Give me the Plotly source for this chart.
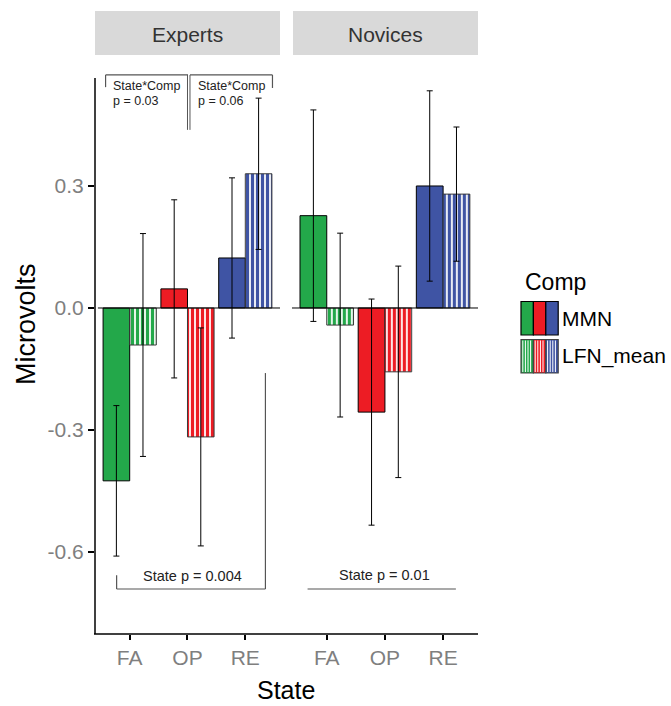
import plotly.graph_objects as go

# ---------------- data ----------------
states = ["FA", "OP", "RE"]
groups = ["Experts", "Novices"]
comps = ["MMN", "LFN_mean"]

experts_mmn = [-0.425, 0.047, 0.123]
experts_mmn_err = [0.185, 0.219, 0.197]
experts_lfn = [-0.091, -0.317, 0.330]
experts_lfn_err = [0.274, 0.268, 0.186]

novices_mmn = [0.227, -0.256, 0.300]
novices_mmn_err = [0.260, 0.278, 0.234]
novices_lfn = [-0.042, -0.157, 0.280]
novices_lfn_err = [0.226, 0.260, 0.165]

state_colors = ["#23a84a", "#ed1c24", "#3f54a4"]
y_tickvals = [-0.6, -0.3, 0.0, 0.3]
y_ticktext = ["-0.6", "-0.3", "0.0", "0.3"]

# ---------------- layout geometry ----------------
W, H = 671, 706
ML, MR, MT, MB = 95, 193, 56, 72
PW, PH = W - ML - MR, H - MT - MB


def px(x):
    return (x - ML) / PW


def py(y):
    return (H - MB - y) / PH


FONT = "Liberation Sans, Arial, sans-serif"
GRAY = "#7f7f7f"

fig = go.Figure()

series = [
    ("x", experts_mmn, experts_mmn_err, False),
    ("x", experts_lfn, experts_lfn_err, True),
    ("x2", novices_mmn, novices_mmn_err, False),
    ("x2", novices_lfn, novices_lfn_err, True),
]
for xa, vals, errs, striped in series:
    marker = dict(color=state_colors,
                  line=dict(color="#3a3a3a" if striped else "black", width=1))
    if striped:
        marker["pattern"] = dict(shape="|", fgcolor=state_colors, bgcolor="white",
                                 size=5, solidity=0.65, fillmode="replace")
    fig.add_trace(go.Bar(
        x=states, y=vals, xaxis=xa, yaxis="y", marker=marker,
        name=comps[1] if striped else comps[0], showlegend=False,
        offsetgroup="b" if striped else "a",
        error_y=dict(type="data", array=errs, color="black", thickness=1, width=3),
    ))

yrange = [-0.8016, 0.6196]
axis_x_common = dict(
    type="category", range=[-0.6, 2.6], showgrid=False, zeroline=False,
    showline=False, ticks="outside", ticklen=5, tickcolor="black", tickwidth=2,
    tickfont=dict(size=21, color=GRAY, family=FONT), fixedrange=True,
)
fig.update_layout(
    width=W, height=H,
    margin=dict(l=ML, r=MR, t=MT, b=MB, autoexpand=False),
    paper_bgcolor="white", plot_bgcolor="white",
    barmode="group", bargap=0.08, bargroupgap=0,
    font=dict(family=FONT),
    xaxis=dict(domain=[0, 0.483], anchor="y", **axis_x_common),
    xaxis2=dict(domain=[0.514, 1], anchor="y", **axis_x_common),
    yaxis=dict(
        domain=[0, 1], anchor="x", range=yrange, showgrid=False,
        zeroline=False, showline=False, ticks="outside", ticklen=6,
        tickcolor="black", tickwidth=2, tickvals=y_tickvals, ticktext=y_ticktext,
        tickfont=dict(size=21, color=GRAY, family=FONT),
    ),
    showlegend=False,
)

shapes = []
ann = []
line_dark = dict(color="#555555", width=1.2)

# zero lines in each panel
shapes.append(dict(type="line", xref="x", yref="y", x0=-0.55, x1=2.7, y0=0, y1=0,
                   line=dict(color="black", width=1)))
shapes.append(dict(type="line", xref="x2", yref="y", x0=-0.6, x1=2.63, y0=0, y1=0,
                   line=dict(color="black", width=1)))
# y axis line and x axis line
shapes.append(dict(type="line", xref="paper", yref="y", x0=0, x1=0, y0=0.5655, y1=yrange[0],
                   line=dict(color="black", width=1.5)))
shapes.append(dict(type="line", xref="paper", yref="paper", x0=px(94), x1=1.0, y0=0, y1=0,
                   line=dict(color="black", width=1.5)))

# strips
for g, (x0, x1) in zip(groups, [(95, 280), (293, 478)]):
    shapes.append(dict(type="rect", xref="paper", yref="paper", x0=px(x0), x1=px(x1),
                       y0=py(55), y1=py(11), fillcolor="#d9d9d9", line=dict(width=0), layer="below"))
    ann.append(dict(text=g, xref="paper", yref="paper", x=px((x0 + x1) / 2), y=py(34),
                    xanchor="center", yanchor="middle",
                    showarrow=False, font=dict(size=21, color="#333333", family=FONT)))

# top brackets (Experts)
shapes += [
    dict(type="line", xref="x", yref="y", x0=-0.417, x1=1.009, y0=0.573, y1=0.573, line=line_dark),
    dict(type="line", xref="x", yref="y", x0=-0.417, x1=-0.417, y0=0.573, y1=0.543, line=line_dark),
    dict(type="line", xref="x", yref="y", x0=1.0, x1=1.0, y0=0.573, y1=0.438,
         line=dict(color="#555555", width=1)),
    dict(type="line", xref="x", yref="y", x0=1.043, x1=2.47, y0=0.573, y1=0.573, line=line_dark),
    dict(type="line", xref="x", yref="y", x0=1.043, x1=1.043, y0=0.573, y1=0.438,
         line=dict(color="#555555", width=1)),
    dict(type="line", xref="x", yref="y", x0=2.47, x1=2.47, y0=0.573, y1=0.541, line=line_dark),
]
txt_font = dict(size=12.5, color="#222222", family=FONT)
for xx, p in [(-0.33, "p = 0.03"), (1.15, "p = 0.06")]:
    ann.append(dict(text="State*Comp", xref="x", yref="y", x=xx, y=0.546, xanchor="left",
                    yanchor="middle", showarrow=False, font=txt_font))
    ann.append(dict(text=p, xref="x", yref="y", x=xx, y=0.509, xanchor="left",
                    yanchor="middle", showarrow=False, font=txt_font))

# bottom brackets
shapes += [
    dict(type="line", xref="x", yref="y", x0=-0.226, x1=2.348, y0=-0.691, y1=-0.691, line=line_dark),
    dict(type="line", xref="x", yref="y", x0=-0.226, x1=-0.226, y0=-0.657, y1=-0.691, line=line_dark),
    dict(type="line", xref="x", yref="y", x0=2.348, x1=2.348, y0=-0.16, y1=-0.691, line=line_dark),
    dict(type="line", xref="x2", yref="y", x0=-0.33, x1=2.22, y0=-0.691, y1=-0.691, line=line_dark),
]
bfont = dict(size=14.5, color="#222222", family=FONT)
ann.append(dict(text="State p = 0.004", xref="x", yref="y", x=1.08, y=-0.659,
                xanchor="center", yanchor="middle", showarrow=False, font=bfont))
ann.append(dict(text="State p = 0.01", xref="x2", yref="y", x=1.0, y=-0.657,
                xanchor="center", yanchor="middle", showarrow=False, font=bfont))

# axis titles
ann.append(dict(text="State", xref="paper", yref="paper", x=px(286), y=py(690),
                xanchor="center", yanchor="middle",
                showarrow=False, font=dict(size=25, color="black", family=FONT)))
ann.append(dict(text="Microvolts", xref="paper", yref="paper", x=px(26), y=py(324),
                xanchor="center", yanchor="middle",
                textangle=-90, showarrow=False, font=dict(size=27, color="black", family=FONT)))

# legend
ann.append(dict(text="Comp", xref="paper", yref="paper", x=px(523), y=py(282), xanchor="left",
                yanchor="middle", showarrow=False, font=dict(size=23, color="black", family=FONT)))
kx0, kw = 521, 12.4
for row, (lab, ky0, ky1, striped) in enumerate([("MMN", 301.5, 335, False),
                                                 ("LFN_mean", 339.5, 373, True)]):
    for i, c in enumerate(state_colors):
        x0 = kx0 + i * kw
        x1 = x0 + kw
        shapes.append(dict(type="rect", xref="paper", yref="paper", x0=px(x0), x1=px(x1),
                           y0=py(ky1), y1=py(ky0), fillcolor=c,
                           line=dict(color="black" if not striped else "#444444", width=1.2)))
        if striped:
            xs = x0 + 1.8
            while xs < x1 - 1:
                shapes.append(dict(type="line", xref="paper", yref="paper", x0=px(xs), x1=px(xs),
                                   y0=py(ky1 - 1), y1=py(ky0 + 1),
                                   line=dict(color="white", width=1)))
                xs += 2.6
    ann.append(dict(text=lab, xref="paper", yref="paper", x=px(560), y=py((ky0 + ky1) / 2),
                    xanchor="left", yanchor="middle", showarrow=False,
                    font=dict(size=21, color="black", family=FONT)))

fig.update_layout(shapes=shapes, annotations=ann)
fig.write_html(
    "out.html",
    config={"displayModeBar": False},
    post_script="document.body.style.margin='0';document.body.style.overflow='hidden';",
)
